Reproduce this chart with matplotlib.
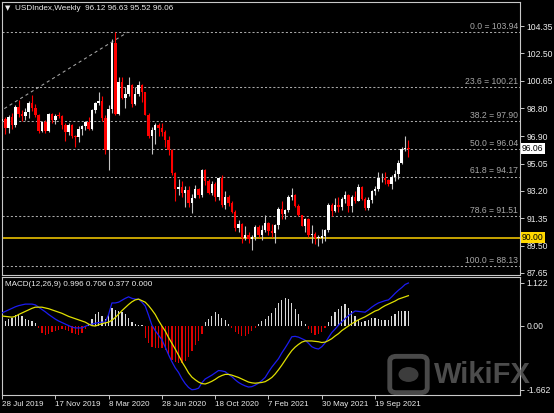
import matplotlib
matplotlib.use('Agg')
import matplotlib.pyplot as plt
import matplotlib.transforms as mtransforms
from matplotlib.patches import FancyBboxPatch, Circle
from matplotlib import font_manager
import numpy as np

# Weekly USDIndex candles, week of 28 Jul 2019 .. week of 28 Nov 2021
opens = [97.95, 98.05, 97.48, 98.17, 97.65, 98.88, 98.40, 98.26, 98.52, 99.12,
         98.80, 98.30, 97.28, 97.83, 97.24, 98.37, 98.00, 98.28, 98.27, 97.68,
         97.18, 97.68, 96.92, 96.84, 97.36, 97.61, 97.87, 97.39, 98.69, 99.13,
         99.26, 98.13, 95.95, 98.75, 103.20, 98.40, 100.58, 99.51, 99.78, 100.38,
         99.07, 99.73, 100.35, 99.86, 98.34, 96.94, 97.33, 97.65, 97.43, 97.18,
         96.65, 95.95, 94.43, 93.35, 93.44, 93.09, 93.24, 92.37, 92.75, 93.33,
         92.93, 94.64, 93.84, 93.06, 93.68, 92.77, 94.04, 92.23, 92.76, 92.39,
         91.79, 90.70, 90.98, 90.02, 90.23, 89.94, 90.10, 90.77, 90.24, 90.58,
         91.04, 90.48, 90.36, 90.88, 91.98, 91.67, 91.92, 92.77, 92.95, 92.17,
         91.56, 90.85, 91.28, 90.23, 90.31, 90.00, 90.03, 90.13, 90.55, 92.23,
         91.86, 92.23, 92.12, 92.68, 92.90, 92.17, 92.80, 92.52, 93.46, 92.68,
         92.04, 92.58, 93.20, 93.32, 94.04, 94.09, 93.96, 93.64, 94.12, 94.32,
         95.12, 96.03, 96.12]
highs = [98.93, 98.20, 98.30, 98.45, 99.00, 99.37, 98.70, 98.80, 99.30, 99.67,
         99.10, 98.40, 97.90, 98.00, 98.50, 98.50, 98.40, 98.55, 98.30, 97.80,
         97.80, 97.70, 97.00, 97.60, 97.65, 97.95, 98.20, 98.75, 99.20, 99.90,
         99.60, 98.30, 99.00, 103.50, 103.94, 100.90, 100.90, 100.20, 100.90, 100.40,
         100.20, 100.60, 100.40, 99.90, 98.50, 97.50, 97.80, 97.80, 97.80, 97.30,
         96.90, 96.00, 94.50, 94.00, 93.90, 93.50, 93.50, 93.00, 93.60, 93.40,
         94.70, 94.70, 94.00, 93.90, 93.80, 94.10, 94.30, 93.20, 92.90, 92.50,
         91.90, 91.20, 91.00, 90.80, 90.40, 90.20, 90.90, 90.90, 90.90, 91.60,
         91.10, 90.95, 90.95, 92.10, 92.50, 92.00, 92.90, 93.40, 93.00, 92.30,
         91.60, 91.40, 91.40, 90.90, 90.40, 90.20, 90.60, 90.60, 92.40, 92.40,
         92.70, 92.80, 92.80, 93.20, 93.00, 92.90, 93.20, 93.70, 93.50, 92.80,
         92.80, 93.25, 93.50, 94.50, 94.40, 94.50, 94.00, 94.30, 94.60, 95.30,
         96.20, 96.90, 96.63]
lows = [97.80, 97.05, 97.10, 97.40, 97.50, 98.20, 97.90, 98.00, 98.10, 98.60,
        98.20, 97.10, 97.20, 97.10, 97.20, 97.80, 97.70, 98.10, 97.40, 96.60,
        97.00, 96.80, 96.20, 96.50, 97.00, 97.30, 97.30, 97.30, 98.50, 99.00,
        97.90, 95.70, 94.60, 98.50, 98.30, 98.30, 99.40, 98.80, 99.60, 98.90,
        99.00, 99.60, 99.20, 98.30, 96.80, 95.70, 96.40, 96.90, 96.90, 96.20,
        95.60, 94.30, 92.50, 92.90, 92.80, 92.10, 92.10, 91.70, 92.70, 92.70,
        92.80, 93.60, 93.00, 92.90, 92.50, 92.60, 92.10, 92.00, 92.20, 91.70,
        90.50, 90.40, 89.70, 89.90, 89.70, 89.20, 89.90, 90.10, 89.90, 90.40,
        90.20, 90.10, 89.70, 90.60, 91.30, 91.30, 91.80, 92.60, 92.10, 91.50,
        90.80, 90.40, 90.10, 89.70, 89.60, 89.50, 89.70, 89.80, 90.40, 91.50,
        91.80, 91.80, 91.90, 92.40, 91.80, 91.80, 92.40, 92.50, 92.60, 91.90,
        91.90, 92.40, 92.90, 93.20, 93.80, 93.70, 93.50, 93.30, 93.90, 94.00,
        95.00, 95.90, 95.52]
closes = [98.05, 97.48, 98.17, 97.65, 98.88, 98.40, 98.26, 98.52, 99.12, 98.80,
          98.30, 97.28, 97.83, 97.24, 98.37, 98.00, 98.28, 98.27, 97.68, 97.18,
          97.68, 96.92, 96.84, 97.36, 97.61, 97.87, 97.39, 98.69, 99.13, 99.26,
          98.13, 95.95, 98.75, 103.20, 98.40, 100.58, 99.51, 99.78, 100.38, 99.07,
          99.73, 100.35, 99.86, 98.34, 96.94, 97.33, 97.65, 97.43, 97.18, 96.65,
          95.95, 94.43, 93.35, 93.44, 93.09, 93.24, 92.37, 92.75, 93.33, 92.93,
          94.64, 93.84, 93.06, 93.68, 92.77, 94.04, 92.23, 92.76, 92.39, 91.79,
          90.70, 90.98, 90.02, 90.23, 89.94, 90.10, 90.77, 90.24, 90.58, 91.04,
          90.48, 90.36, 90.88, 91.98, 91.67, 91.92, 92.77, 92.95, 92.17, 91.56,
          90.85, 91.28, 90.23, 90.31, 90.00, 90.03, 90.13, 90.55, 92.23, 91.86,
          92.23, 92.12, 92.68, 92.90, 92.17, 92.80, 92.52, 93.46, 92.68, 92.04,
          92.58, 93.20, 93.32, 94.04, 94.09, 93.96, 93.64, 94.12, 94.32, 95.12,
          96.03, 96.09, 96.06]

# MACD(12,26,9) panel values
macd_main = [0.34, 0.38, 0.42, 0.46, 0.50, 0.53, 0.55, 0.57, 0.57, 0.57,
             0.55, 0.49, 0.43, 0.37, 0.30, 0.24, 0.18, 0.13, 0.09, 0.05,
             0.01, -0.03, -0.05, -0.05, -0.05, -0.01, 0.03, 0.05, 0.07, 0.09,
             0.10, 0.10, 0.30, 0.60, 0.60, 0.62, 0.67, 0.72, 0.76, 0.72,
             0.70, 0.70, 0.62, 0.52, 0.28, 0.02, -0.12, -0.24, -0.36, -0.55,
             -0.75, -0.93, -1.09, -1.21, -1.37, -1.50, -1.60, -1.66, -1.65, -1.62,
             -1.48, -1.38, -1.33, -1.28, -1.22, -1.16, -1.17, -1.19, -1.26, -1.32,
             -1.40, -1.47, -1.52, -1.56, -1.59, -1.58, -1.54, -1.49, -1.42, -1.34,
             -1.20, -1.07, -0.96, -0.85, -0.70, -0.57, -0.43, -0.28, -0.27, -0.29,
             -0.33, -0.37, -0.45, -0.54, -0.58, -0.60, -0.54, -0.44, -0.30, -0.17,
             -0.08, 0.02, 0.11, 0.19, 0.27, 0.33, 0.39, 0.38, 0.37, 0.36,
             0.42, 0.49, 0.55, 0.60, 0.63, 0.66, 0.68, 0.76, 0.85, 0.93,
             1.00, 1.08, 1.12]
macd_signal = [0.26, 0.25, 0.24, 0.23, 0.25, 0.30, 0.34, 0.38, 0.42, 0.46,
               0.49, 0.49, 0.49, 0.47, 0.45, 0.42, 0.39, 0.36, 0.33, 0.29,
               0.25, 0.22, 0.19, 0.16, 0.13, 0.10, 0.05, 0.01, 0.00, 0.03,
               0.06, 0.08, 0.10, 0.15, 0.22, 0.31, 0.40, 0.48, 0.56, 0.63,
               0.68, 0.70, 0.66, 0.62, 0.53, 0.42, 0.30, 0.14, 0.00, -0.13,
               -0.30, -0.45, -0.60, -0.76, -0.93, -1.07, -1.22, -1.33, -1.40, -1.46,
               -1.50, -1.51, -1.48, -1.44, -1.39, -1.33, -1.29, -1.26, -1.26, -1.28,
               -1.31, -1.34, -1.38, -1.42, -1.46, -1.48, -1.49, -1.48, -1.47, -1.45,
               -1.40, -1.34, -1.25, -1.14, -1.02, -0.89, -0.76, -0.64, -0.55, -0.48,
               -0.42, -0.39, -0.39, -0.39, -0.40, -0.41, -0.43, -0.42, -0.38, -0.33,
               -0.26, -0.20, -0.12, -0.06, 0.00, 0.06, 0.11, 0.16, 0.20, 0.24,
               0.29, 0.34, 0.39, 0.42, 0.48, 0.53, 0.57, 0.61, 0.65, 0.70,
               0.73, 0.76, 0.79]
macd_hist = [0.10, 0.13, 0.18, 0.22, 0.28, 0.29, 0.25, 0.19, 0.15, 0.12,
             0.08, -0.05, -0.17, -0.23, -0.20, -0.15, -0.12, -0.10, -0.08, -0.10,
             -0.13, -0.18, -0.22, -0.23, -0.18, -0.08, 0.05, 0.18, 0.30, 0.36,
             0.26, 0.18, 0.30, 0.48, 0.42, 0.38, 0.36, 0.30, 0.22, 0.10,
             0.05, 0.02, 0.02, -0.30, -0.45, -0.55, -0.57, -0.57, -0.57, -0.62,
             -0.75, -0.88, -0.95, -0.97, -0.97, -0.90, -0.80, -0.65, -0.50, -0.40,
             -0.20, 0.10, 0.18, 0.25, 0.36, 0.30, 0.22, 0.15, 0.05, -0.05,
             -0.15, -0.22, -0.25, -0.25, -0.22, -0.12, -0.05, 0.05, 0.12, 0.18,
             0.25, 0.35, 0.47, 0.60, 0.68, 0.74, 0.70, 0.60, 0.45, 0.30,
             0.12, 0.04, -0.08, -0.18, -0.23, -0.22, -0.15, -0.05, 0.10, 0.25,
             0.36, 0.45, 0.52, 0.56, 0.48, 0.38, 0.26, 0.16, 0.10, 0.13,
             0.16, 0.20, 0.20, 0.18, 0.16, 0.16, 0.16, 0.25, 0.32, 0.38,
             0.40, 0.40, 0.40]

date_labels = ['28 Jul 2019', '17 Nov 2019', '8 Mar 2020', '28 Jun 2020',
               '18 Oct 2020', '7 Feb 2021', '30 May 2021', '19 Sep 2021']
date_pos = [0, 16, 32, 48, 64, 80, 96, 112]

price_ticks = [104.35, 102.50, 100.65, 98.80, 96.90, 95.05, 93.20, 91.35, 89.50, 87.65]
macd_ticks = [1.122, 0.0, -1.662]
macd_tick_labels = ['1.122', '0.00', '-1.662']

fib_pct = ['0.0', '23.6', '38.2', '50.0', '61.8', '78.6', '100.0']
fib_levels = [103.94, 100.21, 97.90, 96.04, 94.17, 91.51, 88.13]
fib_start = (-75.6, 88.13)
fib_end = (37.8, 103.94)
support_level = 90.00
last_price = 96.06

names = {f.name for f in font_manager.fontManager.ttflist}
ui_font = 'Liberation Sans Narrow' if 'Liberation Sans Narrow' in names else 'Liberation Sans'
plt.rcParams['font.family'] = [ui_font, 'DejaVu Sans']

W, H = 554, 413
fig = plt.figure(figsize=(W / 100, H / 100), dpi=100)
fig.patch.set_facecolor('black')

frame_col = '#c8c8c8'
txt_col = '#ececec'
fib_col = '#a8a8a8'
fs = 6.2

ax = fig.add_axes([1.5 / W, (H - 275) / H, 518.5 / W, 273 / H])
ax2 = fig.add_axes([1.5 / W, (H - 395) / H, 518.5 / W, 118 / H])

for a in (ax, ax2):
    a.set_facecolor('black')
    for s in a.spines.values():
        s.set_color(frame_col)
        s.set_linewidth(0.8)
    a.set_xlim(-0.15, 155.5)
    a.yaxis.tick_right()
    a.tick_params(axis='y', colors=frame_col, labelcolor=txt_col, labelsize=fs,
                  length=3, width=0.7, pad=1.5)

# main price panel
idx = np.arange(len(closes))
o = np.array(opens)
c = np.array(closes)
hi = np.array(highs)
lo = np.array(lows)
up = c >= o
body = np.maximum(np.abs(c - o), 0.05)

ax.vlines(idx[up], lo[up], hi[up], color='#c4c4c4', lw=0.8, zorder=3)
ax.vlines(idx[~up], lo[~up], hi[~up], color='#ff0000', lw=0.8, zorder=3)
ax.bar(idx[up], body[up], bottom=o[up], width=0.75, color='white', lw=0, zorder=4)
ax.bar(idx[~up], body[~up], bottom=c[~up], width=0.75, color='#ff0000', lw=0, zorder=4)

blend = mtransforms.blended_transform_factory(ax.transAxes, ax.transData)
for pct, lvl in zip(fib_pct, fib_levels):
    ax.axhline(lvl, color=fib_col, lw=0.75, ls=(0, (2, 2)), zorder=1)
    ax.text(0.996, lvl + 0.08, f'{pct} = {lvl:.2f}', transform=blend, ha='right',
            va='bottom', color=fib_col, fontsize=fs)
ax.plot([fib_start[0], fib_end[0]], [fib_start[1], fib_end[1]], color=fib_col,
        lw=0.75, ls=(0, (3, 3)), zorder=1)
ax.axhline(support_level, color='#c8a400', lw=1.4, zorder=2)

ax.set_ylim(87.514, 105.973)
ax.set_yticks(price_ticks)
ax.set_yticklabels([f'{v:.2f}' for v in price_ticks])
ax.set_xticks([])

ax.text(1.004, last_price, f'{last_price:.2f}', transform=blend, ha='left', va='center',
        fontsize=fs, color='black', zorder=6, clip_on=False,
        bbox=dict(boxstyle='square,pad=0.15', fc='white', ec='none'))
ax.text(1.004, support_level + 0.05, f'{support_level:.2f}', transform=blend, ha='left',
        va='center', fontsize=fs, color='black', zorder=6, clip_on=False,
        bbox=dict(boxstyle='square,pad=0.12', fc='#ffd800', ec='none'))

fig.text(5 / W, 1 - 8 / H, '\u25bc', color=txt_col, fontsize=5, va='center', ha='left',
         family='DejaVu Sans')
fig.text(15 / W, 1 - 8 / H, 'USDIndex,Weekly  96.12 96.63 95.52 96.06', color=txt_col,
         fontsize=5.9, va='center', ha='left')

# MACD panel
hist_cols = ['#d8d8d8' if v >= 0 else '#e00000' for v in macd_hist]
ax2.bar(idx, macd_hist, width=0.38, color=hist_cols, lw=0, zorder=2)
ax2.plot(idx, macd_main, color='#1c1cf0', lw=0.9, zorder=3)
ax2.plot(idx, macd_signal, color='#e0e000', lw=0.9, zorder=3)
ax2.set_ylim(-1.797, 1.276)
ax2.set_yticks(macd_ticks)
ax2.set_yticklabels(macd_tick_labels)
ax2.set_xticks(date_pos)
ax2.set_xticklabels(date_labels, ha='left')
ax2.tick_params(axis='x', colors=frame_col, labelcolor=txt_col, labelsize=5.8,
                length=3, width=0.7, pad=1.5)
ax2.text(0.007, 0.94, 'MACD(12,26,9) 0.996 0.706 0.377 0.000', transform=ax2.transAxes,
         color=txt_col, fontsize=5.9, va='center', ha='left')

# watermark
logo = FancyBboxPatch((392 / W, 1 - 391 / H), 33 / W, 33 / H,
                      boxstyle='round,pad=0.004,rounding_size=0.012',
                      transform=fig.transFigure, fc='none', ec='#5c5c5c', lw=3.5,
                      alpha=0.8, zorder=10)
fig.patches.append(logo)
fig.patches.append(Circle((408.5 / W, 1 - 374.5 / H), 10 / W, transform=fig.transFigure,
                          fc='#4c4c4c', ec='none', alpha=0.8, zorder=10))
fig.text(434 / W, 1 - 375 / H, 'WikiFX', color='#606060', alpha=0.8, fontsize=21,
         fontweight='bold', va='center', ha='left', family='Liberation Sans', zorder=10)

fig.savefig('out.png', dpi=100, facecolor='black')
